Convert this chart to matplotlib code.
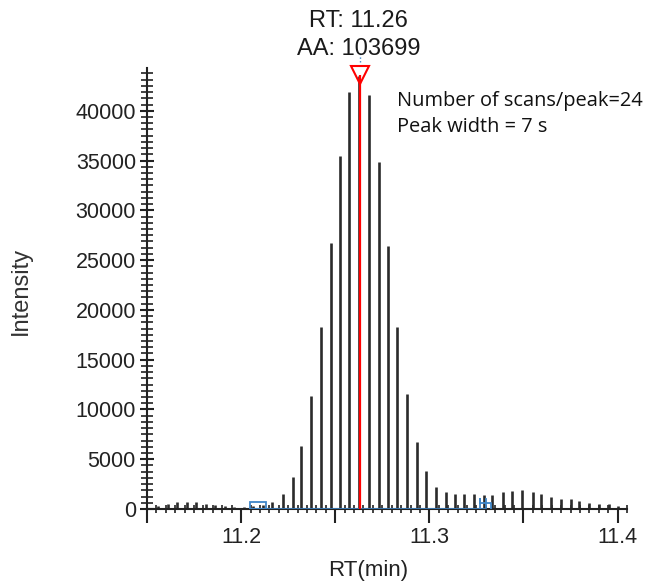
import matplotlib
matplotlib.use("Agg")
import matplotlib.pyplot as plt
from matplotlib.ticker import MultipleLocator, AutoMinorLocator, FuncFormatter
from matplotlib.patches import Rectangle

# scan retention times (min) and intensities
rt = [11.1510, 11.1560, 11.1611, 11.1661, 11.1712, 11.1762, 11.1813, 11.1863,
      11.1914, 11.1964, 11.2015, 11.2065, 11.2116, 11.2166, 11.2222, 11.2275,
      11.2319, 11.2372, 11.2424, 11.2479, 11.2523, 11.2574, 11.2628, 11.2681,
      11.2734, 11.2778, 11.2830, 11.2883, 11.2936, 11.2982, 11.3034, 11.3089,
      11.3135, 11.3182, 11.3236, 11.3289, 11.3334, 11.3392, 11.3440, 11.3493,
      11.3548, 11.3594, 11.3644, 11.3697, 11.3750, 11.3796, 11.3848, 11.3901,
      11.3954, 11.4002]
intensity = [100, 350, 500, 750, 750, 700, 500, 450,
             300, 250, 200, 300, 400, 700, 1500, 3250,
             6300, 11400, 18300, 26700, 35500, 41900, 43500, 41600,
             34900, 26400, 18300, 11600, 6700, 3850, 2250, 1700,
             1500, 1500, 1550, 1450, 1450, 1750, 1850, 1900,
             1700, 1500, 1250, 1050, 1050, 850, 650, 500,
             500, 300]

apex_rt = 11.263
apex_top = 43600
peak_start = 11.2045
peak_end = 11.3300
label_rt = "RT: 11.26"
label_aa = "AA: 103699"
note = "Number of scans/peak=24\nPeak width = 7 s"

plt.rcParams['font.family'] = ['Liberation Sans', 'DejaVu Sans']

fig = plt.figure(figsize=(6.48, 5.86), dpi=100)
ax = fig.add_axes([0.2269, 0.1314, 0.7407, 0.7526])

ax.vlines(rt, 0, intensity, color='#2b2b2b', lw=1.9)

# baseline of the integrated peak
ax.plot([peak_start, peak_end], [0, 0], color='#3f86c8', lw=1.2, zorder=3)
ax.add_patch(Rectangle((peak_start, 0), 0.0085, 700, fill=False,
                       edgecolor='#3f86c8', lw=1.3, zorder=4))
ax.plot([peak_end - 0.003, peak_end - 0.003, peak_end - 0.003, peak_end + 0.003, peak_end + 0.003],
        [0, 1000, 600, 600, 0], color='#3f86c8', lw=1.3, zorder=4)
ax.plot([peak_end, peak_end], [200, 1000], color='#3f86c8', lw=1.3, zorder=4)

# apex marker
ax.vlines([apex_rt], 0, apex_top, color='#ff0000', lw=1.6, zorder=5)
ax.plot([apex_rt], [apex_top], marker='v', ms=13, mfc='none', mec='#ff0000',
        mew=1.5, clip_on=False, zorder=6)
ax.plot([apex_rt, apex_rt], [44900, 46000], color='#3f86c8', lw=1, ls=':',
        clip_on=False)
fig.text(0.553, 0.965, label_rt, ha='center', va='center', fontsize=17,
         color='#1a1a1a')
fig.text(0.553, 0.917, label_aa, ha='center', va='center', fontsize=17,
         color='#1a1a1a')

ax.text(0.52, 0.8957, note, transform=ax.transAxes, ha='left', va='center',
        fontsize=14.4, linespacing=1.4, family=['Open Sans', 'DejaVu Sans'],
        color='#111111')

ax.set_xlim(11.15, 11.405)
ax.set_ylim(0, 44300)

for s in ['top', 'right']:
    ax.spines[s].set_visible(False)
for s in ['left', 'bottom']:
    ax.spines[s].set_linewidth(1.5)
    ax.spines[s].set_color('#222222')

ax.xaxis.set_major_locator(MultipleLocator(0.05))
ax.xaxis.set_minor_locator(MultipleLocator(0.005))
ax.xaxis.set_major_formatter(FuncFormatter(
    lambda v, p: ("%.1f" % v) if abs(v * 10 - round(v * 10)) < 1e-6 else ""))
ax.yaxis.set_major_locator(MultipleLocator(5000))
ax.yaxis.set_minor_locator(AutoMinorLocator(8))

ax.tick_params(axis='x', which='major', direction='out', length=10, width=1.5,
               labelsize=15.5, colors='#222222', pad=3)
ax.tick_params(axis='x', which='minor', direction='inout', length=6, width=1.2,
               colors='#222222')
ax.tick_params(axis='y', which='major', direction='inout', length=10, width=1.5,
               labelsize=15.5, colors='#222222', pad=3)
ax.tick_params(axis='y', which='minor', direction='inout', length=8, width=1.2,
               colors='#222222')

ax.set_xlabel('RT(min)', fontsize=16, color='#222222')
ax.xaxis.set_label_coords(0.46, -0.116)
ax.set_ylabel('Intensity', fontsize=17, color='#333333')
ax.yaxis.set_label_coords(-0.24, 0.495)

fig.savefig('out.png', dpi=100)
